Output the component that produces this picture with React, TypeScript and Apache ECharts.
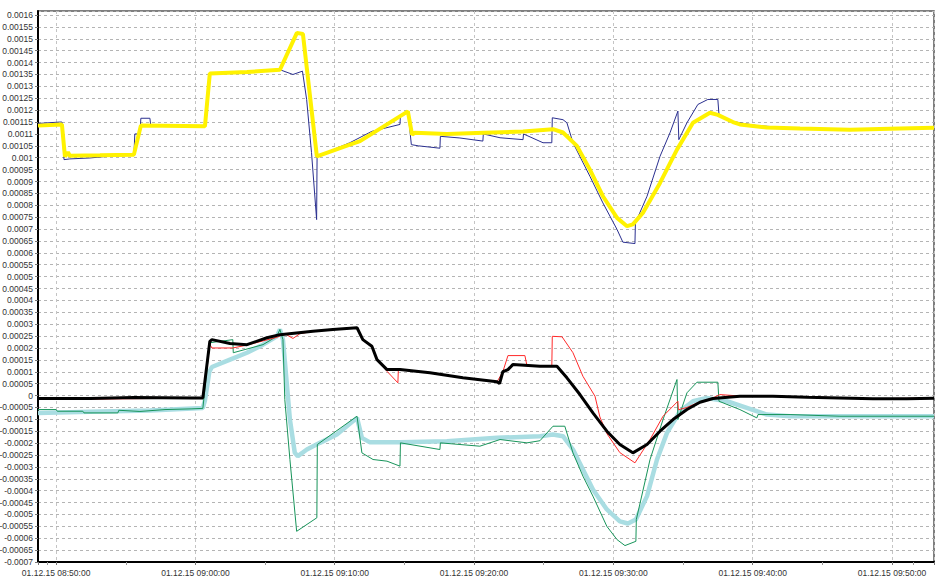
import React, { useEffect, useRef } from "react";
import * as echarts from "echarts";

// ---- Data (time "HH:MM:SS" on 01.12.15, value) ----
const blueSeries: [string, number][] = [
  ["08:48:42", 0.001144], ["08:50:16", 0.00115], ["08:50:25", 0.00115], ["08:50:34", 0.000992],
  ["08:50:59", 0.000995], ["08:52:26", 0.000999], ["08:54:05", 0.001008], ["08:55:35", 0.00101],
  ["08:55:39", 0.0011], ["08:56:01", 0.0011], ["08:56:05", 0.001166], ["08:56:44", 0.001166],
  ["08:56:48", 0.001132], ["09:00:41", 0.001132], ["09:01:02", 0.00135], ["09:03:42", 0.00136],
  ["09:06:04", 0.00137], ["09:07:00", 0.00135], ["09:07:41", 0.001364], ["09:07:59", 0.001245],
  ["09:08:20", 0.001022], ["09:08:42", 0.00074], ["09:08:44", 0.001006], ["09:11:05", 0.001063],
  ["09:12:40", 0.001111], ["09:14:41", 0.00114], ["09:14:43", 0.001177], ["09:15:15", 0.001196],
  ["09:15:30", 0.001055], ["09:16:00", 0.00105], ["09:17:33", 0.00104], ["09:17:35", 0.00109],
  ["09:18:59", 0.001083], ["09:20:38", 0.00107], ["09:20:40", 0.0011], ["09:21:52", 0.001084],
  ["09:23:31", 0.001076], ["09:23:33", 0.0011], ["09:24:57", 0.001063], ["09:25:35", 0.001063],
  ["09:25:37", 0.001168], ["09:26:23", 0.00116], ["09:26:40", 0.001147], ["09:27:06", 0.001063],
  ["09:28:19", 0.000922], ["09:29:15", 0.00081], ["09:30:16", 0.000698], ["09:30:41", 0.000645],
  ["09:31:33", 0.000639], ["09:31:35", 0.000726], ["09:32:25", 0.000838], ["09:33:21", 0.001006],
  ["09:34:04", 0.001105], ["09:34:38", 0.001196], ["09:34:42", 0.001076], ["09:35:17", 0.001147],
  ["09:36:04", 0.001224], ["09:36:47", 0.001245], ["09:37:30", 0.001245], ["09:37:35", 0.001182],
  ["09:38:35", 0.001153], ["09:39:05", 0.001147], ["09:40:18", 0.001135], ["09:43:24", 0.001123],
  ["09:46:59", 0.001118], ["09:50:34", 0.001123], ["09:53:01", 0.001127],
];

const yellowSeries: [string, number][] = [
  ["08:48:42", 0.001135], ["08:50:25", 0.00114], ["08:50:38", 0.001005], ["08:50:51", 0.001024],
  ["08:50:59", 0.001008], ["08:53:09", 0.00101], ["08:55:35", 0.001013], ["08:56:05", 0.001135],
  ["09:00:41", 0.001132], ["09:01:02", 0.001354], ["09:03:42", 0.00136], ["09:06:04", 0.00137],
  ["09:07:17", 0.001525], ["09:07:43", 0.00152], ["09:08:43", 0.001006], ["09:11:05", 0.001055],
  ["09:11:49", 0.00107], ["09:15:15", 0.001195], ["09:15:33", 0.001097], ["09:15:45", 0.001105],
  ["09:18:03", 0.0011], ["09:20:43", 0.001105], ["09:23:31", 0.00111], ["09:25:40", 0.00112],
  ["09:26:23", 0.001106], ["09:27:23", 0.00105], ["09:28:19", 0.00095], ["09:29:15", 0.000838],
  ["09:30:16", 0.000747], ["09:30:59", 0.000712], ["09:31:24", 0.00072], ["09:32:07", 0.000768],
  ["09:33:21", 0.000894], ["09:34:34", 0.001034], ["09:35:43", 0.001147], ["09:36:56", 0.001189],
  ["09:37:30", 0.00118], ["09:38:35", 0.00115], ["09:39:05", 0.00114], ["09:41:01", 0.001127],
  ["09:43:24", 0.001123], ["09:46:59", 0.001118], ["09:50:34", 0.001123], ["09:53:01", 0.001126],
];

const redSeries: [string, number][] = [
  ["08:48:42", -0.000015], ["08:52:26", -0.000015], ["08:57:49", -0.000012], ["09:00:32", -0.000012],
  ["09:01:02", 0.000215], ["09:01:11", 0.0002], ["09:02:41", 0.0002], ["09:03:42", 0.000212],
  ["09:05:51", 0.000245], ["09:06:25", 0.00026], ["09:07:00", 0.00024], ["09:07:30", 0.00026],
  ["09:08:26", 0.00027], ["09:09:52", 0.000278], ["09:11:36", 0.000285], ["09:12:01", 0.000235],
  ["09:12:40", 0.000205], ["09:13:02", 0.00015], ["09:13:45", 0.000102], ["09:14:32", 0.0000534],
  ["09:14:34", 0.000109], ["09:16:50", 0.0000955], ["09:19:12", 0.0000744], ["09:21:39", 0.0000576],
  ["09:22:04", 0.0001], ["09:22:26", 0.000168], ["09:23:39", 0.000168], ["09:23:48", 0.000125],
  ["09:24:44", 0.000123], ["09:25:35", 0.000125], ["09:25:37", 0.000249], ["09:26:19", 0.000247],
  ["09:27:06", 0.00018], ["09:27:49", 0.000081], ["09:28:41", -0.000003], ["09:29:02", -0.00009],
  ["09:29:32", -0.00016], ["09:30:28", -0.00024], ["09:31:33", -0.000283], ["09:32:38", -0.000185],
  ["09:33:34", -0.000087], ["09:34:38", -0.000024], ["09:34:40", -0.00006], ["09:35:17", -0.00005],
  ["09:36:13", -0.000026], ["09:37:09", -0.00001], ["09:37:39", 0.000004], ["09:39:05", -0.000002],
  ["09:43:24", -0.000005], ["09:48:38", -0.000013], ["09:53:01", -0.000011],
];

const blackSeries: [string, number][] = [
  ["08:48:42", -0.000012], ["08:52:26", -0.000012], ["08:55:35", -0.000008], ["08:59:45", -0.00001],
  ["09:00:32", -0.00001], ["09:01:02", 0.000228], ["09:01:11", 0.000235], ["09:02:29", 0.000219],
  ["09:03:42", 0.000214], ["09:05:08", 0.000243], ["09:06:04", 0.000256], ["09:08:26", 0.00027],
  ["09:09:52", 0.000278], ["09:11:36", 0.000285], ["09:12:01", 0.000235], ["09:12:40", 0.000207],
  ["09:13:02", 0.000151], ["09:13:45", 0.000109], ["09:14:41", 0.000109], ["09:16:50", 0.0000955],
  ["09:19:12", 0.0000744], ["09:21:39", 0.0000576], ["09:21:50", 0.00005], ["09:22:04", 0.0001],
  ["09:22:26", 0.000109], ["09:22:47", 0.00013], ["09:24:44", 0.000123], ["09:25:57", 0.000123],
  ["09:26:40", 0.0000744], ["09:27:36", 0.0000042], ["09:28:32", -0.0000728], ["09:29:32", -0.00015],
  ["09:30:28", -0.000206], ["09:31:24", -0.000241], ["09:32:25", -0.000206], ["09:33:21", -0.00015],
  ["09:34:17", -0.000101], ["09:35:17", -0.0000589], ["09:36:13", -0.0000282], ["09:37:09", -0.0000126],
  ["09:39:05", -0.000003], ["09:41:27", -0.000003], ["09:43:54", -0.000007], ["09:46:16", -0.00001],
  ["09:48:38", -0.000014], ["09:51:04", -0.000013], ["09:53:01", -0.000011],
];

const greenSeries: [string, number][] = [
  ["08:48:42", -0.000059], ["08:50:00", -0.000059], ["08:50:05", -0.000066], ["08:51:55", -0.000066],
  ["08:52:00", -0.000073], ["08:54:26", -0.000073], ["08:54:30", -0.000062], ["08:56:01", -0.000067],
  ["08:57:49", -0.000059], ["08:59:45", -0.000056], ["09:00:32", -0.000054], ["09:01:02", 0.000222],
  ["09:02:41", 0.000235], ["09:02:43", 0.00018], ["09:04:51", 0.000214], ["09:05:51", 0.000249],
  ["09:06:04", 0.000278], ["09:06:17", 0.000235], ["09:06:25", -0.000017], ["09:06:47", -0.000269],
  ["09:07:16", -0.000571], ["09:08:43", -0.000514], ["09:08:45", -0.000206], ["09:11:36", -0.000087],
  ["09:11:57", -0.000241], ["09:12:45", -0.000269], ["09:13:45", -0.000276], ["09:14:41", -0.000297],
  ["09:14:43", -0.000199], ["09:17:33", -0.000227], ["09:17:35", -0.000199], ["09:20:25", -0.000213],
  ["09:21:52", -0.000185], ["09:23:48", -0.000199], ["09:24:44", -0.00019], ["09:25:40", -0.000129],
  ["09:26:31", -0.000129], ["09:27:06", -0.000241], ["09:27:49", -0.000339], ["09:28:32", -0.000423],
  ["09:29:32", -0.00055], ["09:30:16", -0.000606], ["09:30:50", -0.000631], ["09:31:37", -0.000613],
  ["09:31:39", -0.000521], ["09:32:38", -0.000269], ["09:33:34", -0.000101], ["09:34:34", 0.0000673],
  ["09:34:38", -0.000101], ["09:35:17", 0.0000114], ["09:36:00", 0.000056], ["09:37:30", 0.000056],
  ["09:37:35", -0.000024], ["09:39:05", -0.000059], ["09:40:18", -0.000094], ["09:40:23", -0.00008],
  ["09:42:41", -0.00008], ["09:46:16", -0.000087], ["09:53:01", -0.000087],
];

const cyanSeries: [string, number][] = [
  ["08:48:42", -0.000073], ["08:52:26", -0.000068], ["08:56:44", -0.000063], ["09:00:32", -0.000052],
  ["09:00:41", -0.00002], ["09:01:00", 0.0001], ["09:01:11", 0.00012], ["09:02:29", 0.000151],
  ["09:03:42", 0.00018], ["09:04:51", 0.000214], ["09:05:51", 0.000249], ["09:06:04", 0.000278],
  ["09:06:17", 0.000235], ["09:06:47", -0.000101], ["09:07:08", -0.000241], ["09:07:21", -0.000255],
  ["09:08:00", -0.000227], ["09:08:56", -0.000199], ["09:10:09", -0.000164], ["09:11:36", -0.000094],
  ["09:11:57", -0.000178], ["09:12:30", -0.000196], ["09:14:41", -0.000196], ["09:18:03", -0.000192],
  ["09:21:39", -0.000178], ["09:24:44", -0.000171], ["09:25:40", -0.000164], ["09:26:23", -0.000171],
  ["09:27:06", -0.000227], ["09:27:49", -0.000311], ["09:28:32", -0.000395], ["09:29:32", -0.000479],
  ["09:30:28", -0.000529], ["09:31:03", -0.000538], ["09:31:37", -0.000521], ["09:32:25", -0.000423],
  ["09:33:08", -0.000269], ["09:33:51", -0.000157], ["09:34:47", -0.000066], ["09:35:43", -0.000024],
  ["09:36:43", -0.00001], ["09:38:09", -0.000024], ["09:39:35", -0.000052], ["09:41:01", -0.00008],
  ["09:42:41", -0.000087], ["09:53:01", -0.000087],
];

const X_MIN = "08:48:42";
const X_MAX = "09:53:01";
const Y_MIN = -0.0007;
const Y_MAX = 0.001617;
const Y_STEP = 0.00005;
const DATE_PREFIX = "01.12.15";

const toTs = (s: string) => {
  const [h, m, sec] = s.split(":").map(Number);
  return Date.UTC(2015, 11, 1, h, m, sec);
};
const pad = (n: number) => (n < 10 ? "0" + n : "" + n);
const toData = (arr: [string, number][]) => arr.map(([t, v]) => [toTs(t), v]);

export default function App() {
  const ref = useRef<HTMLDivElement>(null);
  useEffect(() => {
    if (!ref.current) return;
    const chart = echarts.init(ref.current, undefined, { renderer: "svg" });
    const font = "'Liberation Sans', Arial, sans-serif";
    const line = (name: string, data: [string, number][], color: string, width: number, z: number) => ({
      name,
      type: "line",
      data: toData(data),
      showSymbol: false,
      symbol: "none",
      z,
      lineStyle: { color, width },
      itemStyle: { color },
    });
    chart.setOption({
      animation: false,
      useUTC: true,
      backgroundColor: "#ffffff",
      grid: {
        left: 38, top: 11, right: 1, bottom: 17,
        containLabel: false, outerBoundsMode: "none",
        show: true, borderColor: "#555", borderWidth: 1.5,
      },
      xAxis: {
        type: "time",
        min: toTs(X_MIN),
        max: toTs(X_MAX),
        minInterval: 660000,
        maxInterval: 660000,
        axisLine: { show: true, onZero: false, lineStyle: { color: "#000", width: 2 } },
        axisTick: { show: true, length: 3, lineStyle: { color: "#777" } },
        minorTick: { show: true, splitNumber: 2, length: 3, lineStyle: { color: "#999" } },
        axisLabel: {
          fontSize: 8.5,
          fontFamily: font,
          color: "#333",
          margin: 6,
          showMinLabel: false,
          showMaxLabel: false,
          formatter: (val: number) => {
            const d = new Date(val);
            return `${DATE_PREFIX} ${pad(d.getUTCHours())}:${pad(d.getUTCMinutes())}:${pad(d.getUTCSeconds())}`;
          },
        },
        splitLine: { show: true, lineStyle: { color: "#c4c4c4", type: [3, 3], width: 1 } },
      },
      yAxis: {
        type: "value",
        min: Y_MIN,
        max: Y_MAX,
        interval: Y_STEP,
        axisLine: { show: true, onZero: false, lineStyle: { color: "#000", width: 2 } },
        axisTick: { show: true, length: 3, lineStyle: { color: "#777" } },
        axisLabel: {
          fontSize: 8.5,
          fontFamily: font,
          color: "#333",
          margin: 5,
          showMaxLabel: false,
          formatter: (v: number) => String(parseFloat(v.toFixed(6))),
        },
        splitLine: { show: true, lineStyle: { color: "#b4b4b4", type: [3, 3], width: 1 } },
      },
      series: [
        line("blue", blueSeries, "#2a2f8f", 1, 2),
        line("yellow", yellowSeries, "#fff200", 4, 3),
        line("cyan", cyanSeries, "#a9dde2", 4.5, 2),
        line("green", greenSeries, "#17945a", 1, 3),
        line("red", redSeries, "#ff2a2a", 1, 4),
        line("black", blackSeries, "#000000", 3, 5),
      ],
    });
    return () => chart.dispose();
  }, []);
  return <div ref={ref} style={{ position: "fixed", left: 0, top: 0, width: 935, height: 579 }} />;
}
